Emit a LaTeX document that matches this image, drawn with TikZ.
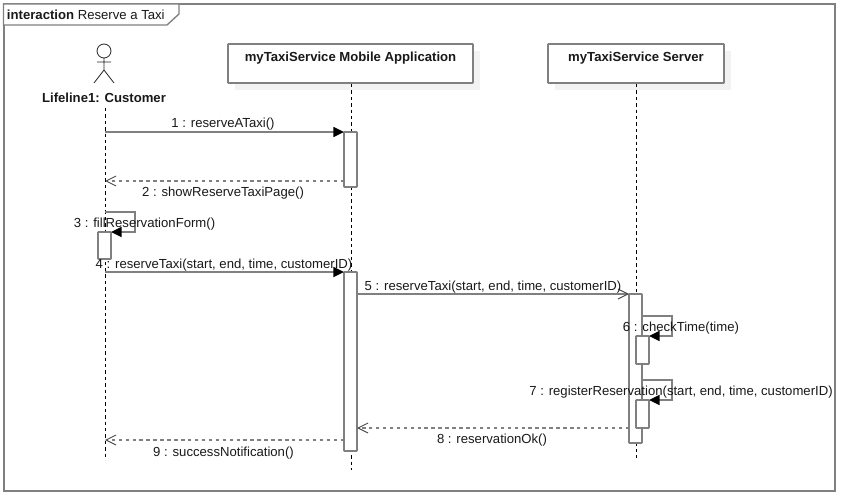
\documentclass[tikz,border=0pt]{standalone}
\usepackage{fontspec}
\setmainfont{Liberation Sans}
\usetikzlibrary{arrows.meta}
\definecolor{umlgray}{RGB}{128,128,128}
\definecolor{umlshadow}{RGB}{242,242,242}
\tikzset{
  x=0.75pt,y=-0.75pt,
  every node/.style={font=\fontsize{9.85}{11}\selectfont,text=black!90,inner sep=0pt,outer sep=0pt},
  framebox/.style={draw=umlgray,line width=1.5pt,fill=white},
  tabbox/.style={draw=umlgray,line width=1pt,fill=white},
  headbox/.style={draw=umlgray,line width=1.2pt,fill=white,minimum height=29.25pt,rounded corners=0.4pt},
  lifeline/.style={draw=black,line width=0.7pt,dash pattern=on 2.6pt off 2.2pt},
  actbox/.style={draw=umlgray,line width=1.2pt,fill=white,minimum width=9.75pt,rounded corners=0.4pt},
  actorline/.style={draw=black!85,line width=0.6pt},
  syncmsg/.style={draw=umlgray,line width=1.2pt,-{Triangle[length=8pt,width=7.5pt,fill=black,color=black]}},
  selfmsg/.style={draw=umlgray,line width=1.2pt,rounded corners=0pt,-{Triangle[length=8pt,width=7.5pt,fill=black,color=black]}},
  openmsg/.style={draw=umlgray,line width=1.2pt,-{Straight Barb[length=7.5pt,width=7.5pt,color=black!70,line width=0.7pt]}},
  retmsg/.style={draw=umlgray,line width=1.2pt,dash pattern=on 2.6pt off 2.6pt,-{Straight Barb[length=7.5pt,width=7.5pt,color=black!70,line width=0.7pt,sep=0pt]}},
  msglabel/.style={anchor=center},
  headlabel/.style={font=\fontsize{9.85}{11}\selectfont\bfseries,anchor=center},
}
\begin{document}
\begin{tikzpicture}
\useasboundingbox (0,0) rectangle (841,495);
\fill[white] (0,0) rectangle (841,495);
% frame
\draw[framebox] (3.5,4) rectangle (835,491);
\draw[tabbox] (3.5,4) -- (179,4) -- (179,14) -- (167,25) -- (3.5,25) -- cycle;
\node[anchor=west] (title) at (7,15) {\textbf{interaction} Reserve a Taxi};
% shadows
\fill[umlshadow] (235,51) rectangle (480,90);
\fill[umlshadow] (555,51) rectangle (731,90);
% heads
\node[headbox,minimum width=183.75pt] (mobile) at (350.5,63.5) {};
\node[headbox,minimum width=132pt] (server) at (636,63.5) {};
\node[headlabel] (mobileText) at (350.5,58) {myTaxiService Mobile Application};
\node[headlabel] (serverText) at (636,58) {myTaxiService Server};
% actor
\node[circle,draw=black!85,line width=0.6pt,minimum size=10.5pt] (head) at (104,51) {};
\coordinate (hip) at (104,70);
\coordinate (armL) at (97,62);
\coordinate (armR) at (111,62);
\coordinate (footL) at (94,83);
\coordinate (footR) at (114,83);
\draw[actorline] (head.south) -- (hip) (armL) -- (armR) (footL) -- (hip) -- (footR);
\node[headlabel] (customer) at (104,97.5) {Lifeline1: Customer};
% lifelines
\coordinate (customerEnd) at (105,460);
\coordinate (customerTop) at (105,108);
\coordinate (mobileEnd) at (351.5,470);
\coordinate (mobileTop) at (351.5,84);
\coordinate (serverEnd) at (636,458);
\coordinate (serverTop) at (636,84);
\draw[lifeline] (customerTop) -- (customerEnd);
\draw[lifeline] (mobileTop) -- (mobileEnd);
\draw[lifeline] (serverTop) -- (serverEnd);
% activations
\node[actbox,minimum height=41.25pt] (actA) at (350.5,159.5) {};
\node[actbox,minimum height=20.25pt] (actB) at (104.5,245.5) {};
\node[actbox,minimum height=134.25pt] (actC) at (350.5,361.5) {};
\node[actbox,minimum height=111.75pt] (actD) at (635.5,368.5) {};
\node[actbox,minimum height=21pt] (actE) at (642.5,350) {};
\node[actbox,minimum height=21pt] (actF) at (642.5,414) {};
% messages
\coordinate (m1) at (105,132);
\coordinate (m2) at (344,181);
\coordinate (m2e) at (105,181);
\coordinate (m3a) at (105,212);
\coordinate (m3b) at (135,212);
\coordinate (m3c) at (135,232);
\coordinate (m4) at (105,272);
\coordinate (m5) at (357,294);
\coordinate (m6a) at (642,316);
\coordinate (m6b) at (672,316);
\coordinate (m6c) at (672,336);
\coordinate (m7a) at (642,380);
\coordinate (m7b) at (672,380);
\coordinate (m7c) at (672,400);
\coordinate (m8) at (629,428);
\coordinate (m8e) at (357,428);
\coordinate (m9) at (344,440);
\coordinate (m9e) at (105,440);
\draw[syncmsg] (m1) -- (actA.north west);
\draw[retmsg] (m2) -- (m2e);
\draw[selfmsg] (m3a) -- (m3b) -- (m3c) -- (actB.north east);
\draw[syncmsg] (m4) -- (actC.north west);
\draw[openmsg] (m5) -- (m5 -| actD.west);
\draw[selfmsg] (m6a) -- (m6b) -- (m6c) -- (actE.north east);
\draw[selfmsg] (m7a) -- (m7b) -- (m7c) -- (actF.north east);
\draw[retmsg] (m8) -- (m8e);
\draw[retmsg] (m9) -- (m9e);
% labels
\node[msglabel] (l1) at (223,124.5) {1 : reserveATaxi()};
\node[msglabel] (l2) at (223,193.5) {2 : showReserveTaxiPage()};
\node[msglabel] (l3) at (144.5,224) {3 : fillReservationForm()};
\node[msglabel] (l4) at (224,265.5) {4 : reserveTaxi(start, end, time, customerID)};
\node[msglabel] (l5) at (493,287.5) {5 : reserveTaxi(start, end, time, customerID)};
\node[msglabel] (l6) at (681,328) {6 : checkTime(time)};
\node[msglabel] (l7) at (681,392.5) {7 : registerReservation(start, end, time, customerID)};
\node[msglabel] (l8) at (492,440.5) {8 : reservationOk()};
\node[msglabel] (l9) at (223.5,453) {9 : successNotification()};
\end{tikzpicture}
\end{document}
